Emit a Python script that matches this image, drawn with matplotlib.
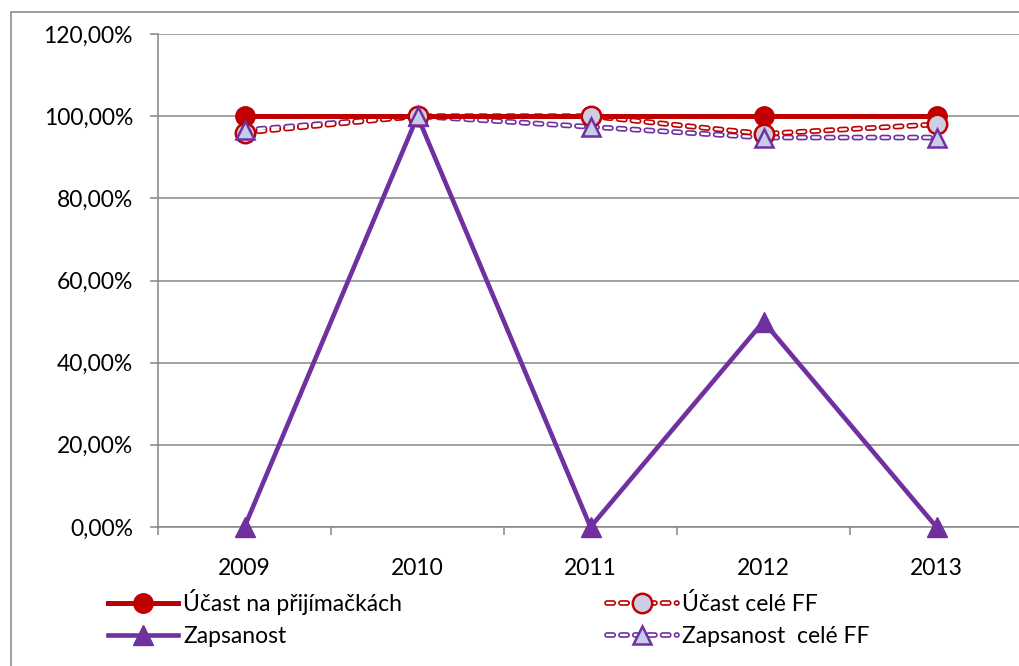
import matplotlib
matplotlib.use("Agg")
import matplotlib.pyplot as plt
from matplotlib.patches import Rectangle
from matplotlib.ticker import FuncFormatter, FixedLocator
from matplotlib.legend_handler import HandlerTuple

plt.rcParams['font.family'] = ['Lato', 'DejaVu Sans']
plt.rcParams['lines.scale_dashes'] = False

# data
years = ['2009', '2010', '2011', '2012', '2013']
ucast = [100, 100, 100, 100, 100]
zapsanost = [0, 100, 0, 50, 0]
ucast_ff = [96.0, 100, 100, 95.7, 98.0]
zapsanost_ff = [96.6, 100, 97.4, 94.8, 94.8]

RED = '#C00000'
PURPLE = '#7030A0'
GRID = '#868686'
FS = 16.5

fig = plt.figure(figsize=(10.19, 6.66), dpi=100)
W, H = 1019, 666
ax = fig.add_axes([158 / W, 1 - 527 / H, (1023 - 158) / W, (527 - 34) / H])

# chart outer frame
fig.patches.append(Rectangle((11 / W, -0.1), 1.2, 1 - 12 / H + 0.1, transform=fig.transFigure,
                             fill=False, edgecolor='#8c8c8c', linewidth=1.2))

x = list(range(len(years)))
dash = (0, (4.5, 5.5))


def double_dash(vals, color):
    # hollow dashes: wide coloured stroke with a thin white stroke on top
    outer, = ax.plot(x, vals, color=color, lw=4.1, linestyle=dash,
                     dash_capstyle='round', zorder=2, clip_on=False)
    inner, = ax.plot(x, vals, color='white', lw=1.7, linestyle=dash,
                     dash_capstyle='round', zorder=2.1, clip_on=False)
    return outer, inner


zo, zi = double_dash(zapsanost_ff, PURPLE)
uo, ui = double_dash(ucast_ff, RED)

l_z, = ax.plot(x, zapsanost, color=PURPLE, lw=3.3, marker='^', markersize=14,
               markerfacecolor=PURPLE, markeredgecolor=PURPLE, zorder=3, clip_on=False)
l_u, = ax.plot(x, ucast, color=RED, lw=3.6, marker='o', markersize=14,
               markerfacecolor=RED, markeredgecolor=RED, zorder=4, clip_on=False)

m_u, = ax.plot(x, ucast_ff, linestyle='none', marker='o', markersize=14,
               markerfacecolor='#cdcde4', markeredgecolor=RED, markeredgewidth=1.8,
               zorder=5, clip_on=False)
m_z, = ax.plot(x, zapsanost_ff, linestyle='none', marker='^', markersize=13,
               markerfacecolor='#c6cdea', markeredgecolor=PURPLE, markeredgewidth=1.8,
               zorder=6, clip_on=False)

ax.set_ylim(0, 120)
ax.set_xlim(-0.5, len(years) - 0.5)
ax.set_yticks(range(0, 121, 20))
ax.yaxis.set_major_formatter(FuncFormatter(lambda v, p: f'{v:.2f}'.replace('.', ',') + '%'))
ax.yaxis.grid(True, color=GRID, linewidth=1.1)
ax.set_axisbelow(True)

ax.set_xticks(x)
ax.set_xticklabels(years)
ax.xaxis.set_minor_locator(FixedLocator([i - 0.5 for i in range(len(years) + 1)]))
ax.tick_params(axis='x', which='major', length=0, pad=22, labelsize=FS)
ax.tick_params(axis='x', which='minor', length=6, width=1.1, color=GRID, direction='out')
ax.tick_params(axis='y', which='major', length=6, width=1.1, color=GRID, pad=12, labelsize=FS)

for s in ['top', 'right']:
    ax.spines[s].set_visible(False)
for s in ['left', 'bottom']:
    ax.spines[s].set_color(GRID)
    ax.spines[s].set_linewidth(1.1)

leg_kw = dict(frameon=False, fontsize=FS, handlelength=3.05, handletextpad=0.22,
              labelspacing=0.47, borderpad=0, borderaxespad=0,
              handler_map={tuple: HandlerTuple(ndivide=1, pad=0)})
fig.legend([l_u, l_z], ['Účast na přijímačkách', 'Zapsanost'],
           loc='upper left', bbox_to_anchor=(108 / W, 1 - 589 / H), **leg_kw)
fig.legend([(uo, ui, m_u), (zo, zi, m_z)], ['Účast celé FF', 'Zapsanost  celé FF'],
           loc='upper left', bbox_to_anchor=(607 / W, 1 - 593 / H), **leg_kw)

fig.savefig('out.png', dpi=100)
